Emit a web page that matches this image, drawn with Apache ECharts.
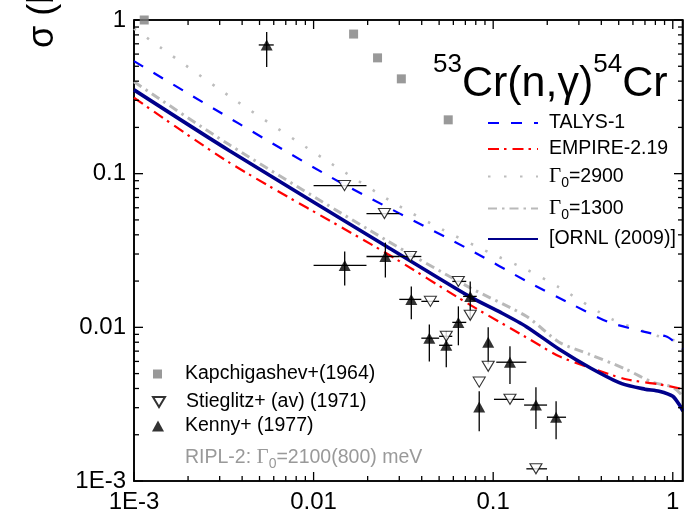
<!DOCTYPE html>
<html><head><meta charset="utf-8">
<script src="https://cdn.jsdelivr.net/npm/echarts@6/dist/echarts.min.js"></script>
<style>html,body{margin:0;padding:0;background:#fff}#c{width:684px;height:514px}</style>
</head><body><div id="c"></div>
<script>
// ---- tick values / labels ----
const xMajor = [0.001, 0.01, 0.1, 1];
const xMajorLabels = ['1E-3', '0.01', '0.1', '1'];
const yMajor = [0.001, 0.01, 0.1, 1];
const yMajorLabels = ['1E-3', '0.01', '0.1', '1'];
const xMinor = [0.002,0.003,0.004,0.005,0.006,0.007,0.008,0.009,0.02,0.03,0.04,0.05,0.06,0.07,0.08,0.09,0.2,0.3,0.4,0.5,0.6,0.7,0.8,0.9];
const yMinor = [0.002,0.003,0.004,0.005,0.006,0.007,0.008,0.009,0.02,0.03,0.04,0.05,0.06,0.07,0.08,0.09,0.2,0.3,0.4,0.5,0.6,0.7,0.8,0.9];

// ---- model curves ----
const talysX = [0.001, 0.0123, 0.0736, 0.158, 0.275, 0.441, 0.708, 0.914, 1.0, 1.14];
const talysY = [0.54, 0.0957, 0.0321, 0.0196, 0.0141, 0.0108, 0.0093, 0.00874, 0.0082, 0.0072];
const empireX = [0.001, 0.0034, 0.025, 0.0736, 0.153, 0.233, 0.34, 0.55, 0.84, 1.14];
const empireY = [0.312, 0.118, 0.0307, 0.0141, 0.0086, 0.00648, 0.0055, 0.00459, 0.00426, 0.00396];
const g2900X = [0.001, 0.00364, 0.0123, 0.0289, 0.0521, 0.095, 0.153, 0.233, 0.458, 0.836, 1.14];
const g2900Y = [0.88, 0.302, 0.118, 0.063, 0.0433, 0.0307, 0.0238, 0.0182, 0.0113, 0.00874, 0.0080];
const g1300X = [0.001, 0.0034, 0.025, 0.0736, 0.153, 0.233, 0.343, 0.55, 0.77, 1.0, 1.14];
const g1300Y = [0.396, 0.154, 0.0373, 0.0182, 0.0118, 0.0080, 0.00668, 0.00533, 0.00439, 0.00408, 0.00356];
const ornlX = [0.001, 0.0034, 0.025, 0.0736, 0.11, 0.153, 0.233, 0.35, 0.52, 0.70, 0.84, 1.0, 1.1, 1.14];
const ornlY = [0.351, 0.141, 0.0341, 0.0159, 0.0125, 0.0101, 0.0072, 0.00542, 0.0043, 0.00396, 0.00384, 0.00356, 0.00307, 0.00285];

// ---- experimental data ----
const kapchX = [0.00114, 0.0167, 0.0227, 0.0308, 0.0562];
const kapchY = [1.0, 0.81, 0.567, 0.414, 0.224];

const stX   = [0.01486, 0.0248, 0.0346, 0.0447, 0.064, 0.0745, 0.0548, 0.0938, 0.0836, 0.124, 0.173];
const stY   = [0.0836, 0.055, 0.0289, 0.01476, 0.0199, 0.01197, 0.00874, 0.00558, 0.0044, 0.0034, 0.0012];
const stXlo = [0.0100, 0.0197, 0.030, 0.0398, 0.0592, 0.0745, 0.050, 0.0938, 0.0836, 0.101, 0.153];
const stXhi = [0.0197, 0.030, 0.0398, 0.050, 0.0708, 0.0745, 0.0592, 0.0938, 0.0836, 0.1486, 0.1995];

const kenX   = [0.00548, 0.0149, 0.0251, 0.035, 0.0441, 0.0548, 0.064, 0.0745, 0.0938, 0.0836, 0.124, 0.173, 0.224];
const kenY   = [0.688, 0.0253, 0.0289, 0.0152, 0.0085, 0.00764, 0.01077, 0.0159, 0.0080, 0.00303, 0.00593, 0.00312, 0.0026];
const kenXlo = [0.00495, 0.0100, 0.0197, 0.030, 0.0398, 0.050, 0.0592, 0.068, 0.0938, 0.0836, 0.104, 0.1486, 0.1995];
const kenXhi = [0.0060, 0.0197, 0.030, 0.0398, 0.050, 0.0592, 0.0708, 0.081, 0.0938, 0.0836, 0.153, 0.1995, 0.2545];
const kenYlo = [0.495, 0.01875, 0.0211, 0.01127, 0.0060, 0.0055, 0.00764, 0.01127, 0.00575, 0.00211, 0.00427, 0.00218, 0.00187];
const kenYhi = [0.836, 0.0312, 0.0356, 0.01846, 0.01045, 0.00942, 0.01369, 0.0199, 0.0100, 0.00384, 0.00753, 0.00408, 0.0033];

// ---- build ----
const FONT = '"Liberation Sans", Arial, Helvetica, sans-serif';
const SERIF = '"Liberation Serif", "DejaVu Serif", serif';
const XMIN = 0.001, XMAX = 1.14, YMIN = 0.001, YMAX = 1;
const XMID = 0.03, YMID = 0.03;
const pairs = (xs, ys) => xs.map((x, i) => [x, ys[i]]);
function labelOf(vals, labels) {
  return v => { for (let i = 0; i < vals.length; i++) if (Math.abs(v / vals[i] - 1) < 1e-6) return labels[i]; return ''; };
}
const LS = () => ({ stroke: '#000', lineWidth: 1.3 });
// x ticks: data [value, anchor, length]
function xTickRender(params, api) {
  const v = api.value(0), len = api.value(2);
  const pb = api.coord([v, YMIN]), pt = api.coord([v, YMAX]);
  return { type: 'group', children: [
    { type: 'line', shape: { x1: pb[0], y1: pb[1], x2: pb[0], y2: pb[1] - len }, style: LS() },
    { type: 'line', shape: { x1: pt[0], y1: pt[1], x2: pt[0], y2: pt[1] + len }, style: LS() }
  ] };
}
// y ticks: data [anchor, value, length]
function yTickRender(params, api) {
  const v = api.value(1), len = api.value(2);
  const pl = api.coord([XMIN, v]), pr = api.coord([XMAX, v]);
  return { type: 'group', children: [
    { type: 'line', shape: { x1: pl[0], y1: pl[1], x2: pl[0] + len, y2: pl[1] }, style: LS() },
    { type: 'line', shape: { x1: pr[0], y1: pr[1], x2: pr[0] - len, y2: pr[1] }, style: LS() }
  ] };
}
// frame (top and right edges)
function frameRender(params, api) {
  const a = api.coord([XMIN, YMAX]), b = api.coord([XMAX, YMAX]), c = api.coord([XMAX, YMIN]);
  const st = { stroke: '#000', lineWidth: 1.6 };
  return { type: 'group', children: [
    { type: 'line', shape: { x1: a[0], y1: a[1], x2: b[0], y2: b[1] }, style: st },
    { type: 'line', shape: { x1: b[0] - 0.5, y1: b[1], x2: c[0] - 0.5, y2: c[1] }, style: st }
  ] };
}
function errRender(params, api) {
  const x = api.value(0), y = api.value(1);
  const pl = api.coord([api.value(2), y]), ph = api.coord([api.value(3), y]);
  const pb = api.coord([x, api.value(4)]), pt = api.coord([x, api.value(5)]);
  return { type: 'group', children: [
    { type: 'line', shape: { x1: pl[0], y1: pl[1], x2: ph[0], y2: ph[1] }, style: LS() },
    { type: 'line', shape: { x1: pb[0], y1: pb[1], x2: pt[0], y2: pt[1] }, style: LS() }
  ] };
}
const kenErr = kenX.map((x, i) => [x, kenY[i], kenXlo[i], kenXhi[i], kenYlo[i], kenYhi[i]]);
const stErr = stX.map((x, i) => [x, stY[i], stXlo[i], stXhi[i], stY[i], stY[i]]);
const xTickData = xMajor.map(v => [v, YMID, 9]).concat(xMinor.map(v => [v, YMID, 5]));
const yTickData = yMajor.map(v => [XMID, v, 9]).concat(yMinor.map(v => [XMID, v, 5]));

const lineSeries = (name, xs, ys, color, width, type, z) => ({
  name, type: 'line', data: pairs(xs, ys), showSymbol: false, symbol: 'none', smooth: 0.25,
  lineStyle: { color, width, type, cap: 'butt' }, itemStyle: { color, opacity: 0 }, z, silent: true
});

const richG = {
  g: { fontFamily: SERIF, fontSize: 21 },
  s: { fontFamily: FONT, fontSize: 14, padding: [14, 0, 0, 0] },
  t: { fontFamily: FONT, fontSize: 19.5 }
};
const legendBase = (item, left, top, w, h, pad) => ({
  data: [item], left, top, padding: 0, itemGap: 0, itemWidth: w, itemHeight: h, selectedMode: false,
  textStyle: { fontFamily: FONT, fontSize: 19.5, color: '#000', padding: [0, 0, 0, pad], rich: richG },
  formatter: n => n.indexOf('Γ0') === 0 ? '{g|Γ}{s|0}{t|' + n.slice(2) + '}' : n
});
const lineLegend = (name, top) => {
  const l = legendBase(name, 487, top, 50, 14, 6);
  l.itemStyle = { opacity: 0 };
  return l;
};
const axisBase = (min, max, labels, labelVals, margin) => ({
  type: 'log', logBase: 10, min, max,
  axisLine: { show: true, lineStyle: { color: '#000', width: 1.6 } },
  axisTick: { show: false },
  axisLabel: { show: true, customValues: labelVals, formatter: labelOf(labelVals, labels), color: '#000', fontSize: 24, fontFamily: FONT, margin },
  splitLine: { show: false }, minorTick: { show: false }
});

const option = {
  animation: false,
  backgroundColor: '#fff',
  grid: { left: 134, top: 20, right: 1, bottom: 32, containLabel: false, show: true, borderColor: '#000', borderWidth: 1.6, backgroundColor: 'transparent' },
  xAxis: axisBase(XMIN, XMAX, xMajorLabels, xMajor, 9),
  yAxis: axisBase(YMIN, YMAX, yMajorLabels, yMajor, 8),
  title: {
    text: '{sup|53}{m|Cr(n,γ)}{sup|54}{m|Cr}', left: 433, top: 52, padding: 0,
    textStyle: { fontWeight: 'normal', rich: {
      sup: { fontFamily: FONT, fontSize: 26, lineHeight: 26, verticalAlign: 'top', color: '#000', fontWeight: 'normal' },
      m: { fontFamily: FONT, fontSize: 43, lineHeight: 47, padding: [18, 0, 0, 0], color: '#000', fontWeight: 'normal' }
    } }
  },
  legend: [
    lineLegend('TALYS-1', 113),
    lineLegend('EMPIRE-2.19', 139),
    lineLegend('Γ0=2900', 166),
    lineLegend('Γ0=1300', 198),
    lineLegend('[ORNL (2009)]', 229),
    legendBase('Kapchigashev+(1964)', 153, 364, 9, 9, 18),
    legendBase({ name: 'Stieglitz+ (av) (1971)', icon: 'path://M0,0L12,0L6,10Z' }, 152, 392, 12, 10, 16),
    legendBase('Kenny+ (1977)', 152, 416, 12, 11, 16)
  ],
  graphic: [
    { type: 'text', x: 43, y: 48, rotation: Math.PI / 2,
      style: { text: 'σ (b)', font: '36px ' + FONT, fill: '#000', align: 'left', verticalAlign: 'middle' } },
    { type: 'text', left: 185, top: 447,
      style: { text: '{t|RIPL-2: }{g|Γ}{s|0}{t|=2100(800) meV}', fill: '#999',
        rich: { t: { fontFamily: FONT, fontSize: 19.5, fill: '#999', color: '#999' },
                g: { fontFamily: SERIF, fontSize: 21, fill: '#999', color: '#999' },
                s: { fontFamily: FONT, fontSize: 14, padding: [14, 0, 0, 0], fill: '#999', color: '#999' } } } }
  ],
  series: [
    lineSeries('Γ0=2900', g2900X, g2900Y, '#bdbdbd', 2.6, [2.5, 13.5], 2),
    lineSeries('Γ0=1300', g1300X, g1300Y, '#b9b9b9', 3, [9, 5, 2.5, 5], 2),
    lineSeries('TALYS-1', talysX, talysY, '#0000ff', 2.2, [11, 12], 3),
    lineSeries('EMPIRE-2.19', empireX, empireY, '#ff0000', 2.2, [11, 5, 2.5, 6], 3),
    lineSeries('[ORNL (2009)]', ornlX, ornlY, '#00008b', 3.6, 'solid', 4),
    { name: 'Kapchigashev+(1964)', type: 'scatter', data: pairs(kapchX, kapchY), symbol: 'rect', symbolSize: 9,
      itemStyle: { color: '#808080' }, z: 5 },
    { name: 'kenErr', type: 'custom', data: kenErr, renderItem: errRender, encode: { x: 0, y: 1 }, z: 5, silent: true },
    { name: 'stErr', type: 'custom', data: stErr, renderItem: errRender, encode: { x: 0, y: 1 }, z: 5, silent: true },
    { name: 'xTicks', type: 'custom', data: xTickData, renderItem: xTickRender, encode: { x: 0, y: 1 }, z: 5, silent: true },
    { name: 'yTicks', type: 'custom', data: yTickData, renderItem: yTickRender, encode: { x: 0, y: 1 }, z: 5, silent: true },
    { name: 'frame', type: 'custom', data: [[XMID, YMID]], renderItem: frameRender, encode: { x: 0, y: 1 }, z: 5, silent: true },
    { name: 'Stieglitz+ (av) (1971)', type: 'scatter', data: pairs(stX, stY), symbol: 'triangle', symbolRotate: 180,
      symbolSize: [12, 10], itemStyle: { color: '#fff', borderColor: '#000', borderWidth: 1.1 }, z: 6 },
    { name: 'Kenny+ (1977)', type: 'scatter', data: pairs(kenX, kenY), symbol: 'triangle',
      symbolSize: [12, 11], itemStyle: { color: '#000' }, z: 6 }
  ]
};
const chart = echarts.init(document.getElementById('c'), null, { renderer: 'canvas' });
chart.setOption(option);
</script></body></html>
